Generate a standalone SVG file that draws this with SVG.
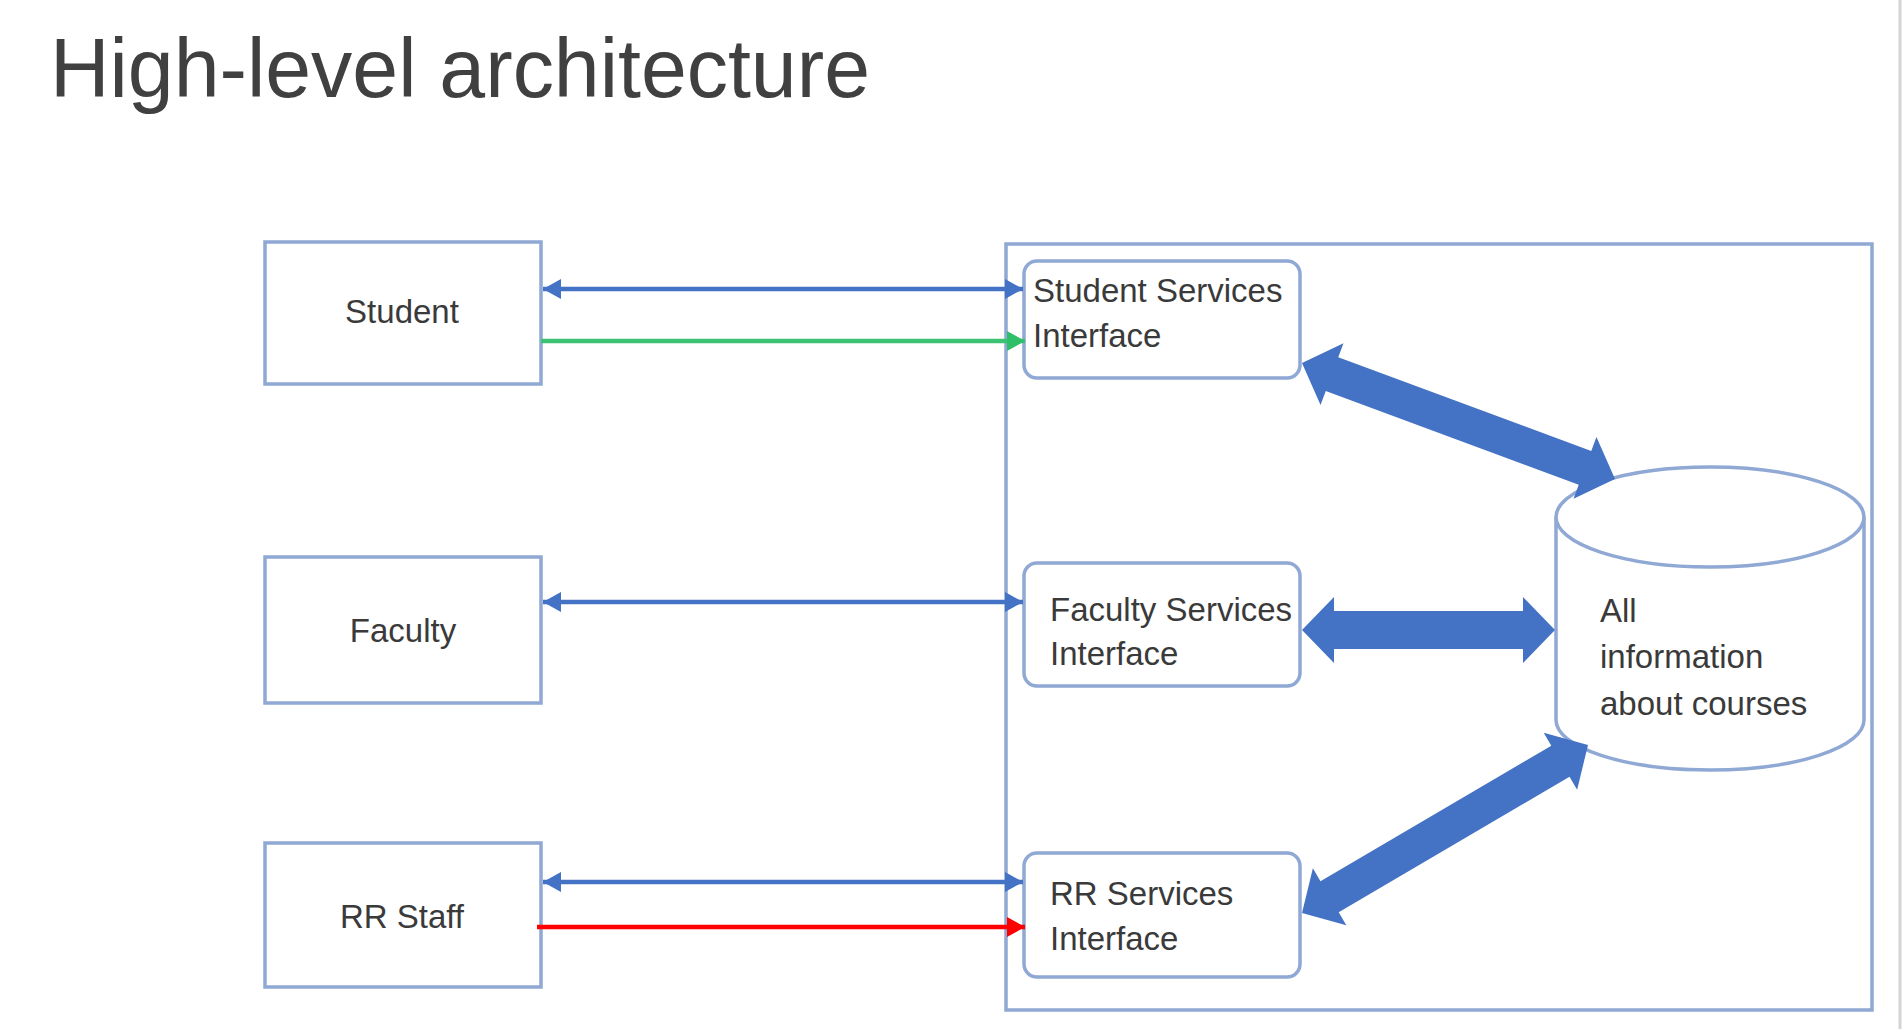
<svg xmlns="http://www.w3.org/2000/svg" width="1903" height="1029" viewBox="0 0 1903 1029">
<style>
.box{fill:#fff;stroke:#8FA8D4;stroke-width:3.5}
.lbl{font-family:"Liberation Sans",Arial,sans-serif;font-size:33px;fill:#3a3a3a}
.thin{fill:none;stroke-width:4.5}
.blk{fill:#4472C4}
</style>
<defs>
<marker id="hb" markerUnits="userSpaceOnUse" markerWidth="20" markerHeight="24" refX="18" refY="12" orient="auto-start-reverse">
<path d="M0,2 L18,12 L0,22 z" fill="#4472C4"/>
</marker>
<marker id="hg" markerUnits="userSpaceOnUse" markerWidth="20" markerHeight="24" refX="18" refY="12" orient="auto">
<path d="M0,2 L18,12 L0,22 z" fill="#2FBF68"/>
</marker>
<marker id="hr" markerUnits="userSpaceOnUse" markerWidth="20" markerHeight="24" refX="18" refY="12" orient="auto">
<path d="M0,2 L18,12 L0,22 z" fill="#FF0000"/>
</marker>
</defs>
<rect width="1903" height="1029" fill="#fff"/>
<line x1="1900" y1="0" x2="1900" y2="1029" stroke="#d4d4d4" stroke-width="3"/>
<text x="50" y="97" font-family="'Liberation Sans',Arial,sans-serif" font-size="84" fill="#404040" textLength="820" lengthAdjust="spacingAndGlyphs">High-level architecture</text>

<g id="container">
<rect class="box" x="1006" y="244" width="866" height="766"/>
</g>

<g id="student">
<rect class="box" x="265" y="242" width="276" height="142"/>
<text class="lbl" x="402" y="323" text-anchor="middle">Student</text>
</g>
<g id="faculty">
<rect class="box" x="265" y="557" width="276" height="146"/>
<text class="lbl" x="403" y="642" text-anchor="middle">Faculty</text>
</g>
<g id="rrstaff">
<rect class="box" x="265" y="843" width="276" height="144"/>
<text class="lbl" x="402" y="928" text-anchor="middle">RR Staff</text>
</g>

<g id="student-services">
<rect class="box" x="1024" y="261" width="276" height="117" rx="13"/>
<text class="lbl" x="1033" y="302">Student Services</text>
<text class="lbl" x="1033" y="347">Interface</text>
</g>
<g id="faculty-services">
<rect class="box" x="1024" y="563" width="276" height="123" rx="13"/>
<text class="lbl" x="1050" y="621">Faculty Services</text>
<text class="lbl" x="1050" y="665">Interface</text>
</g>
<g id="rr-services">
<rect class="box" x="1024" y="853" width="276" height="124" rx="13"/>
<text class="lbl" x="1050" y="905">RR Services</text>
<text class="lbl" x="1050" y="950">Interface</text>
</g>

<g id="database">
<path d="M1556,517 L1556,720 A154,50 0 0 0 1864,720 L1864,517" fill="#fff" stroke="#8FA8D4" stroke-width="3.5"/>
<ellipse cx="1710" cy="517" rx="154" ry="50" fill="#fff" stroke="#8FA8D4" stroke-width="3.5"/>
<text class="lbl" x="1600" y="622" font-size="34">All</text>
<text class="lbl" x="1600" y="668" font-size="34">information</text>
<text class="lbl" x="1600" y="715" font-size="34">about courses</text>
</g>

<g id="connectors">
<line class="thin" x1="543" y1="289" x2="1023" y2="289" stroke="#4472C4" marker-start="url(#hb)" marker-end="url(#hb)"/>
<line class="thin" x1="541" y1="341" x2="1025" y2="341" stroke="#3CC273" stroke-width="6" marker-end="url(#hg)"/>
<line class="thin" x1="543" y1="602" x2="1023" y2="602" stroke="#4472C4" marker-start="url(#hb)" marker-end="url(#hb)"/>
<line class="thin" x1="543" y1="882" x2="1023" y2="882" stroke="#4472C4" marker-start="url(#hb)" marker-end="url(#hb)"/>
<line class="thin" x1="537" y1="927" x2="1025" y2="927" stroke="#FF0000" marker-end="url(#hr)"/>
<polygon class="blk" transform="translate(1302,363) rotate(20.33)" points="0,0 32,-33 32,-18 301.8,-18 301.8,-33 333.8,0 301.8,33 301.8,18 32,18 32,33"/>
<polygon class="blk" transform="translate(1302,630)" points="0,0 32,-33 32,-19 221,-19 221,-33 253,0 221,33 221,19 32,19 32,33"/>
<polygon class="blk" transform="translate(1302,913) rotate(-30.43)" points="0,0 32,-33 32,-18 299.7,-18 299.7,-33 331.7,0 299.7,33 299.7,18 32,18 32,33"/>
</g>
</svg>
